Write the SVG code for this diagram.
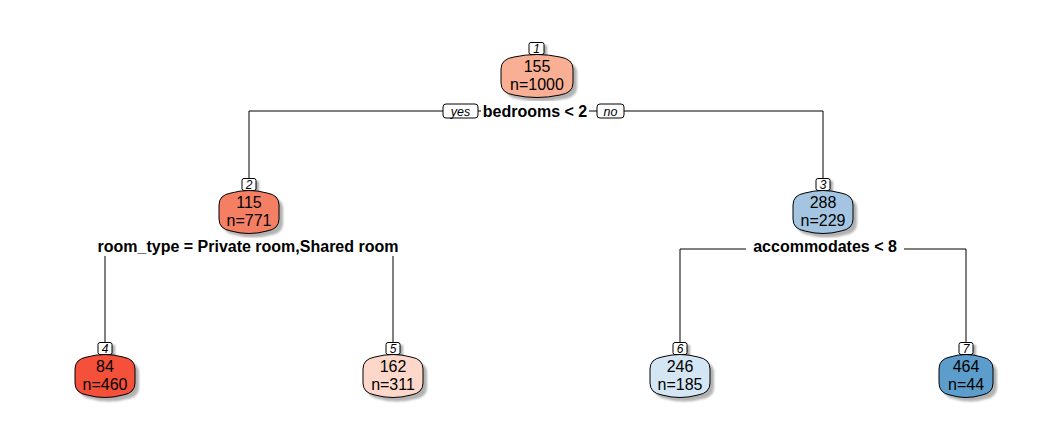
<svg xmlns="http://www.w3.org/2000/svg" width="1056" height="432" viewBox="0 0 1056 432">
<defs>
<filter id="blur" x="-20%" y="-20%" width="140%" height="140%"><feGaussianBlur stdDeviation="1.2"/></filter>
<path id="s60" d="M-30,14 Q-30,4 -18,2 Q0,-3 18,2 Q30,4 30,14 L30,28 Q30,38 18,40 Q0,45 -18,40 Q-30,38 -30,28Z"/>
<path id="s72" d="M-36,14 Q-36,4 -23,2 Q0,-3 23,2 Q36,4 36,14 L36,28 Q36,38 23,40 Q0,45 -23,40 Q-36,38 -36,28Z"/>
<path id="s54" d="M-27,14 Q-27,4 -16,2 Q0,-3 16,2 Q27,4 27,14 L27,28 Q27,38 16,40 Q0,45 -16,40 Q-27,38 -27,28Z"/>
</defs>
<style>
text{font-family:"Liberation Sans",Arial,sans-serif;fill:#000}
.v{font-size:16px;text-anchor:middle}
.sp{font-size:16px;font-weight:bold;text-anchor:middle}
.num{font-size:12px;font-style:italic;text-anchor:middle}
.yn{font-size:12.5px;font-style:italic;text-anchor:middle}
.shape{stroke:#000;stroke-width:1}
.shadow{fill:#999;opacity:0.75;filter:url(#blur)}
.lb{fill:#fff;stroke:#000;stroke-width:1}
.lbs{fill:#aaa;filter:url(#blur)}
.bg{fill:#fff}
.conn path{fill:none;stroke:#000;stroke-width:1}
</style>
<rect width="1056" height="432" fill="#fff"/>
<g id="connectors" class="conn">
<path d="M249,179 V111 H823 V179"/>
<path d="M105,343 V249 H393 V343"/>
<path d="M680,343 V249 H966 V343"/>
</g>
<g id="node1" transform="translate(537,55)">
<rect class="lbs" x="-5" y="-10" width="15" height="12"/>
<rect class="lb" x="-8" y="-12.5" width="15" height="12" rx="2"/>
<text class="num" x="-0.5" y="-2.5">1</text>
<use href="#s72" class="shadow" x="4" y="4"/>
<use href="#s72" class="shape" fill="#F8AF93"/>
<text class="v" x="0" y="17">155</text>
<text class="v" x="0" y="35">n=1000</text>
</g>
<g id="split1">
<rect class="bg" x="481" y="101" width="108" height="20"/>
<text class="sp" x="535" y="117">bedrooms &lt; 2</text>
<rect class="lb" x="443" y="104" width="35" height="14" rx="3"/>
<text class="yn" x="460.5" y="115.5">yes</text>
<rect class="lb" x="597" y="104" width="27" height="14" rx="3"/>
<text class="yn" x="610.5" y="115.5">no</text>
</g>
<g id="node2" transform="translate(249,191)">
<rect class="lbs" x="-4" y="-10" width="14" height="12"/>
<rect class="lb" x="-7" y="-12.5" width="14" height="12" rx="2"/>
<text class="num" x="0" y="-2.5">2</text>
<use href="#s60" class="shadow" x="4" y="4"/>
<use href="#s60" class="shape" fill="#F47F63"/>
<text class="v" x="0" y="17">115</text>
<text class="v" x="0" y="35">n=771</text>
</g>
<g id="split2">
<rect class="bg" x="95" y="238" width="307" height="18"/>
<text class="sp" x="248" y="252">room_type = Private room,Shared room</text>
</g>
<g id="node3" transform="translate(823,191)">
<rect class="lbs" x="-4" y="-10" width="14" height="12"/>
<rect class="lb" x="-7" y="-12.5" width="14" height="12" rx="2"/>
<text class="num" x="0" y="-2.5">3</text>
<use href="#s60" class="shadow" x="4" y="4"/>
<use href="#s60" class="shape" fill="#A4C5E1"/>
<text class="v" x="0" y="17">288</text>
<text class="v" x="0" y="35">n=229</text>
</g>
<g id="split3">
<rect class="bg" x="746" y="238" width="158" height="18"/>
<text class="sp" x="825" y="252">accommodates &lt; 8</text>
</g>
<g id="node4" transform="translate(105,355)">
<rect class="lbs" x="-4" y="-10" width="14" height="12"/>
<rect class="lb" x="-7" y="-12.5" width="14" height="12" rx="2"/>
<text class="num" x="0" y="-2.5">4</text>
<use href="#s60" class="shadow" x="4" y="4"/>
<use href="#s60" class="shape" fill="#F4503A"/>
<text class="v" x="0" y="17">84</text>
<text class="v" x="0" y="35">n=460</text>
</g>
<g id="node5" transform="translate(393,355)">
<rect class="lbs" x="-4" y="-10" width="14" height="12"/>
<rect class="lb" x="-7" y="-12.5" width="14" height="12" rx="2"/>
<text class="num" x="0" y="-2.5">5</text>
<use href="#s60" class="shadow" x="4" y="4"/>
<use href="#s60" class="shape" fill="#FDD8CA"/>
<text class="v" x="0" y="17">162</text>
<text class="v" x="0" y="35">n=311</text>
</g>
<g id="node6" transform="translate(680,355)">
<rect class="lbs" x="-4" y="-10" width="14" height="12"/>
<rect class="lb" x="-7" y="-12.5" width="14" height="12" rx="2"/>
<text class="num" x="0" y="-2.5">6</text>
<use href="#s60" class="shadow" x="4" y="4"/>
<use href="#s60" class="shape" fill="#D4E5F3"/>
<text class="v" x="0" y="17">246</text>
<text class="v" x="0" y="35">n=185</text>
</g>
<g id="node7" transform="translate(966,355)">
<rect class="lbs" x="-4" y="-10" width="14" height="12"/>
<rect class="lb" x="-7" y="-12.5" width="14" height="12" rx="2"/>
<text class="num" x="0" y="-2.5">7</text>
<use href="#s54" class="shadow" x="4" y="4"/>
<use href="#s54" class="shape" fill="#5D9DCB"/>
<text class="v" x="0" y="17">464</text>
<text class="v" x="0" y="35">n=44</text>
</g>
</svg>
